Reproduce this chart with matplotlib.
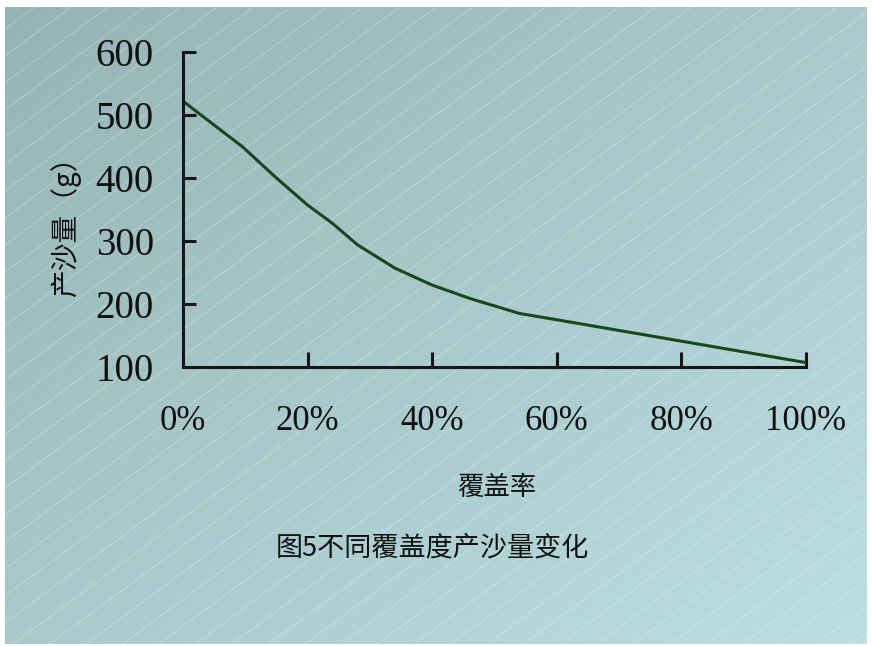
import numpy as np
import matplotlib
matplotlib.use("Agg")
import matplotlib.pyplot as plt
from matplotlib.patches import Rectangle
from matplotlib.ticker import FixedLocator

plt.rcParams['font.family'] = ['Liberation Serif', 'Noto Sans CJK SC', 'DejaVu Sans']

# data
cover = [0, 5, 9.5, 15, 20, 24, 28, 34, 40, 46, 54, 60, 70, 80, 90, 100]   # 覆盖率 (%)
sand = [522, 484, 450, 400, 357, 328, 294, 257, 230, 209, 185, 175, 158, 141, 124, 107]  # 产沙量 (g)
x_ticks = [0, 20, 40, 60, 80, 100]
x_labels = ['0%', '20%', '40%', '60%', '80%', '100%']
y_ticks = [100, 200, 300, 400, 500, 600]

W, H = 872, 646
fig = plt.figure(figsize=(W / 100, H / 100), dpi=100)
fig.patch.set_facecolor('white')

# background panel: diagonal gradient with thin white hatch lines
bg = fig.add_axes([0, 0, 1, 1])
bg.set_xlim(0, W)
bg.set_ylim(H, 0)
bg.axis('off')
x0, x1, y0, y1 = 5, 866, 7, 644
c_tl = np.array([0x96, 0xb4, 0xb5]) / 255
c_br = np.array([0xbc, 0xdf, 0xe2]) / 255
gx, gy = np.meshgrid(np.linspace(0, 1, 200), np.linspace(0, 1, 150))
t = ((gx + gy) / 2)[..., None]
grad = c_tl * (1 - t) + c_br * t
bg.imshow(grad, extent=[x0, x1, y1, y0], aspect='auto', interpolation='bilinear')
clip = Rectangle((x0, y0), x1 - x0, y1 - y0, transform=bg.transData, fc='none', ec='none')
bg.add_patch(clip)
slope = 0.74
for b in np.arange(-700, 1400, 27):
    xs = np.array([x0, x1])
    ys = b - slope * (xs - x0)
    ln, = bg.plot(xs, ys, color='white', lw=0.5, alpha=0.35)
    ln.set_clip_path(clip)

# main chart
ax = fig.add_axes([183 / W, 1 - 367 / H, 623 / W, 315 / H])
ax.set_facecolor('none')
ax.plot(cover, sand, color='#17481a', lw=2.2, solid_joinstyle='round')
ax.set_xlim(0, 100)
ax.set_ylim(100, 600)
for s in ['top', 'right']:
    ax.spines[s].set_visible(False)
for s in ['left', 'bottom']:
    ax.spines[s].set_linewidth(2.2)
    ax.spines[s].set_color('#161616')
ax.xaxis.set_major_locator(FixedLocator(x_ticks))
ax.set_xticklabels(x_labels)
ax.yaxis.set_major_locator(FixedLocator(y_ticks))
ax.tick_params(axis='x', direction='in', length=10.5, width=2.2, color='#161616',
               labelsize=25, pad=27, labelcolor='#111111')
ax.tick_params(axis='y', direction='in', length=9.5, width=2.2, color='#161616',
               labelsize=28, pad=21, labelcolor='#111111')

cjk = ['Noto Sans CJK SC', 'DejaVu Sans']
fig.text(66 / W, 1 - 220 / H, '产沙量（g）', rotation=90, ha='center', va='center',
         fontsize=20, family=cjk, color='#111111')
fig.text(497 / W, 1 - 487 / H, '覆盖率', ha='center', va='center',
         fontsize=19, family=cjk, color='#111111')
fig.text(432 / W, 1 - 548 / H, '图5不同覆盖度产沙量变化', ha='center', va='center',
         fontsize=19.5, family=cjk, color='#111111')

fig.savefig('out.png', dpi=100)
